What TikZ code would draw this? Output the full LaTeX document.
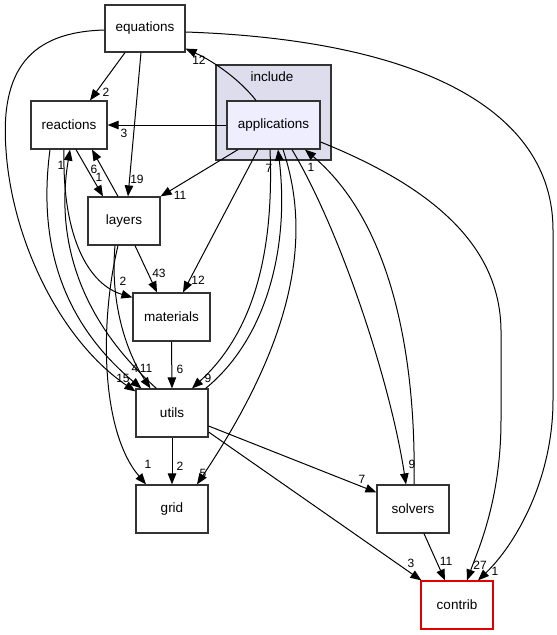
\documentclass[tikz,border=0pt]{standalone}
\usepackage{fontspec}
\setmainfont{Liberation Sans}
\usetikzlibrary{arrows.meta}
\definecolor{clfill}{HTML}{DDDDEE}
\definecolor{appfill}{HTML}{EEEEFF}
\definecolor{boxline}{HTML}{333333}
\definecolor{redline}{HTML}{E00000}
\begin{document}
\begin{tikzpicture}[x=1pt,y=-1pt,
  box/.style={draw=boxline,line width=1.2pt,minimum height=48pt,minimum width=72pt,inner sep=0pt,fill=white,font=\fontsize{13.5}{15}\selectfont},
  cluster/.style={draw=boxline,line width=1.2pt,fill=clfill,inner sep=0pt},
  dep/.style={draw=black,line width=1pt,-{Triangle[length=11pt,width=8.5pt]}},
  lbl/.style={font=\fontsize{12}{13}\selectfont,inner sep=0pt},
  clbl/.style={font=\fontsize{13.5}{15}\selectfont,inner sep=0pt}]
\useasboundingbox (0,0) rectangle (557,635);
% cluster
\node[cluster,minimum width=115pt,minimum height=95pt] (include) at (273.5,112.5) {};
\node[clbl] (includelbl) at (272,77) {include};
% nodes
\node[box,minimum width=80pt,minimum height=47pt] (equations) at (145,28.5) {equations};
\node[box,minimum width=93pt,fill=appfill] (applications) at (273.5,125) {applications};
\node[box,minimum width=76pt] (reactions) at (69,125) {reactions};
\node[box] (layers) at (124,221) {layers};
\node[box,minimum width=77pt] (materials) at (171.5,317) {materials};
\node[box] (utils) at (172,413) {utils};
\node[box] (grid) at (172,509) {grid};
\node[box] (solvers) at (413,509) {solvers};
\node[box,draw=redline] (contrib) at (457,605) {contrib};
% edges from equations
\draw[dep] ([xshift=-20pt]equations.south) -- ([xshift=21pt]reactions.north);
\node[lbl] (l1) at (106,92) {2};
\draw[dep] ([xshift=-4pt]equations.south) -- ([xshift=4pt]layers.north);
\node[lbl] (l2) at (137,179) {19};
\draw[dep] ([yshift=-1.5pt]equations.west) .. controls (30,32) and (0,70) .. (6,150) .. controls (12,240) and (60,340) .. ([yshift=-3pt]utils.north west);
\node[lbl] (l3) at (123,378) {15};
\draw[dep] ([yshift=-3.5pt]equations.east) .. controls (420,40) and (553,110) .. (553,230) -- (553,400) .. controls (553,480) and (515,545) .. ([xshift=21pt]contrib.north);
\node[lbl] (l4) at (495,571) {1};
% edges from applications
\draw[dep] ([xshift=-17.5pt]applications.north) .. controls (240,80) and (215,62) .. ([yshift=4pt]equations.south east);
\node[lbl] (l5) at (199,60) {12};
\draw[dep] (applications.west) -- (reactions.east);
\node[lbl] (l6) at (124,133) {3};
\draw[dep] ([xshift=-35.5pt]applications.south) -- (layers.north east);
\node[lbl] (l7) at (180,195) {11};
\draw[dep] ([xshift=-15.5pt]applications.south) -- ([xshift=11.5pt]materials.north);
\node[lbl] (l8) at (198,280) {12};
\draw[dep] ([xshift=-3.5pt]applications.south) .. controls (275,270) and (245,340) .. ([xshift=20pt]utils.north);
\node[lbl] (l9) at (208,378) {9};
\draw[dep] ([xshift=-3pt]utils.north east) .. controls (265,340) and (290,250) .. ([xshift=4.5pt]applications.south);
\node[lbl] (l10) at (269,168) {7};
\draw[dep] ([xshift=9.5pt]applications.south) .. controls (310,230) and (300,330) .. ([xshift=25pt]grid.north);
\node[lbl] (l11) at (203,473) {5};
\draw[dep] ([xshift=18.5pt]applications.south) .. controls (340,230) and (390,380) .. ([xshift=-7pt]solvers.north);
\node[lbl] (l12) at (412,464) {9};
\draw[dep] ([xshift=1pt]solvers.north) .. controls (416,380) and (400,230) .. ([xshift=31.5pt]applications.south);
\node[lbl] (l13) at (311,167) {1};
\draw[dep] ([yshift=-17pt]applications.east) .. controls (440,190) and (500,250) .. (501,330) -- (501,420) .. controls (501,500) and (478,550) .. ([xshift=10pt]contrib.north);
\node[lbl] (l14) at (480,565) {27};
% reactions / layers
\draw[dep] ([xshift=7pt]reactions.south) -- ([xshift=-21pt]layers.north);
\node[lbl] (l15) at (99,177) {1};
\draw[dep] ([xshift=-6pt]layers.north) -- ([xshift=23pt]reactions.south);
\node[lbl] (l16) at (94,169) {6};
\draw[dep] ([xshift=-19pt]reactions.south) .. controls (38,240) and (60,320) .. ([xshift=6pt]utils.north west);
\node[lbl] (l17) at (135,368) {4};
\draw[dep] ([xshift=21pt]utils.north west) .. controls (80,320) and (55,240) .. ([xshift=1pt]reactions.south);
\node[lbl] (l18) at (61,165) {1};
\draw[dep] ([xshift=-5pt]reactions.south) .. controls (62,240) and (90,285) .. ([yshift=-5pt]materials.north west);
\node[lbl] (l19) at (123,281) {2};
\draw[dep] ([xshift=11pt]layers.south) -- ([xshift=-14.5pt]materials.north);
\node[lbl] (l20) at (159,273) {43};
\draw[dep] ([xshift=-9pt]layers.south) .. controls (110,300) and (125,350) .. ([xshift=15pt]utils.north west);
\node[lbl] (l21) at (146,368) {11};
\draw[dep] ([xshift=-6pt]layers.south) .. controls (100,320) and (100,430) .. ([xshift=-26pt]grid.north);
\node[lbl] (l22) at (148,464) {1};
% lower part
\draw[dep] (materials.south) -- (utils.north);
\node[lbl] (l23) at (180,369) {6};
\draw[dep] (utils.south) -- (grid.north);
\node[lbl] (l24) at (180,466) {2};
\draw[dep] ([yshift=-13pt]utils.east) -- ([yshift=-8pt]solvers.north west);
\node[lbl] (l25) at (362,479) {7};
\draw[dep] ([yshift=-19pt]utils.east) -- ([xshift=1pt]contrib.north west);
\node[lbl] (l26) at (411,563) {3};
\draw[dep] ([xshift=11pt]solvers.south) -- ([xshift=-12pt]contrib.north);
\node[lbl] (l27) at (446,561) {11};
\end{tikzpicture}
\end{document}
